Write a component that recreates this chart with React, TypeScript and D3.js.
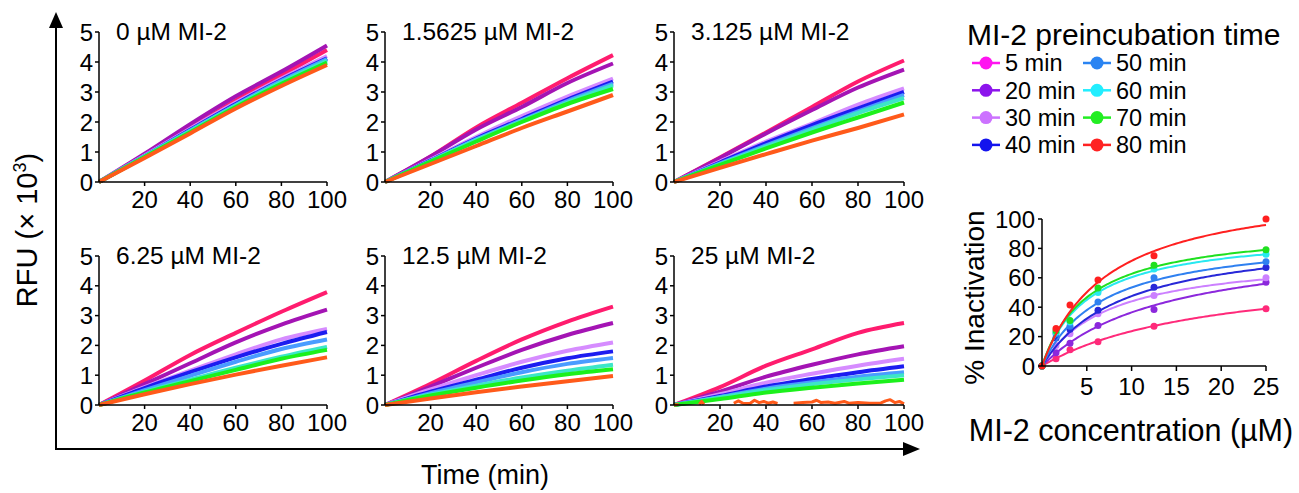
import React from "react";
import * as d3 from "d3";

const FONT = "'Liberation Sans', Arial, sans-serif";

// preincubation times (series), same order everywhere
const PRE_TIMES = ["5 min", "20 min", "30 min", "40 min", "50 min", "60 min", "70 min", "80 min"];
const LEGEND_COLORS = ["#ff14f0", "#8c14ec", "#cc72ff", "#1414ee", "#2a84f2", "#22eeff", "#22ee22", "#ff2222"];
const TRACE_COLORS = ["#ff1c6e", "#a414b4", "#d68cff", "#1c1cf0", "#4a9cff", "#3ce6c8", "#1cf01c", "#ff5a1a"];
const FIT_COLORS = ["#ff2a7a", "#8c28dc", "#cc80ff", "#2828d8", "#2f80f0", "#28e8f0", "#20e020", "#ff2020"];

// kinetic traces, RFU x 10^3 read at these times (min)
const TIMES = [0, 20, 40, 60, 80, 100];
const PANEL_LABELS = ["0 µM MI-2", "1.5625 µM MI-2", "3.125 µM MI-2", "6.25 µM MI-2", "12.5 µM MI-2", "25 µM MI-2"];

const rfu0 = [
  [0, 0.88, 1.8, 2.72, 3.56, 4.4],
  [0, 0.94, 1.93, 2.86, 3.68, 4.55],
  [0, 0.88, 1.78, 2.65, 3.45, 4.2],
  [0, 0.86, 1.74, 2.6, 3.4, 4.12],
  [0, 0.86, 1.72, 2.57, 3.37, 4.1],
  [0, 0.85, 1.7, 2.55, 3.33, 4.05],
  [0, 0.83, 1.66, 2.5, 3.27, 3.98],
  [0, 0.8, 1.62, 2.45, 3.2, 3.9],
];
const rfu1_5625 = [
  [0, 0.85, 1.82, 2.64, 3.46, 4.23],
  [0, 0.85, 1.75, 2.5, 3.3, 3.95],
  [0, 0.75, 1.5, 2.2, 2.85, 3.45],
  [0, 0.72, 1.45, 2.1, 2.75, 3.35],
  [0, 0.7, 1.42, 2.06, 2.7, 3.28],
  [0, 0.7, 1.4, 2.03, 2.65, 3.22],
  [0, 0.68, 1.35, 2.0, 2.6, 3.1],
  [0, 0.6, 1.2, 1.8, 2.35, 2.9],
];
const rfu3_125 = [
  [0, 0.82, 1.65, 2.5, 3.35, 4.05],
  [0, 0.8, 1.62, 2.4, 3.15, 3.75],
  [0, 0.68, 1.35, 1.95, 2.58, 3.12],
  [0, 0.65, 1.3, 1.9, 2.45, 3.0],
  [0, 0.62, 1.22, 1.8, 2.35, 2.9],
  [0, 0.6, 1.18, 1.75, 2.3, 2.8],
  [0, 0.57, 1.12, 1.65, 2.15, 2.65],
  [0, 0.47, 0.93, 1.38, 1.8, 2.25],
];
const rfu6_25 = [
  [0, 0.82, 1.68, 2.42, 3.13, 3.79],
  [0, 0.7, 1.4, 2.1, 2.7, 3.2],
  [0, 0.6, 1.15, 1.7, 2.2, 2.55],
  [0, 0.57, 1.1, 1.6, 2.05, 2.45],
  [0, 0.5, 0.98, 1.45, 1.88, 2.2],
  [0, 0.45, 0.85, 1.25, 1.62, 1.95],
  [0, 0.42, 0.8, 1.18, 1.55, 1.85],
  [0, 0.36, 0.7, 1.02, 1.32, 1.6],
];
const rfu12_5 = [
  [0, 0.71, 1.48, 2.2, 2.8, 3.3],
  [0, 0.62, 1.25, 1.85, 2.35, 2.75],
  [0, 0.52, 1.0, 1.45, 1.82, 2.1],
  [0, 0.45, 0.85, 1.25, 1.57, 1.8],
  [0, 0.4, 0.76, 1.1, 1.38, 1.58],
  [0, 0.35, 0.65, 0.92, 1.15, 1.35],
  [0, 0.32, 0.58, 0.82, 1.03, 1.2],
  [0, 0.22, 0.43, 0.62, 0.8, 0.97],
];
const rfu25 = [
  [0, 0.6, 1.32, 1.87, 2.42, 2.75],
  [0, 0.45, 0.95, 1.35, 1.7, 1.97],
  [0, 0.36, 0.75, 1.05, 1.32, 1.55],
  [0, 0.3, 0.62, 0.87, 1.1, 1.3],
  [0, 0.27, 0.55, 0.76, 0.95, 1.1],
  [0, 0.25, 0.5, 0.7, 0.86, 1.0],
  [0, 0.2, 0.42, 0.58, 0.72, 0.85],
];
// 80 min trace at 25 µM is flat / broken, keep its own times
const rfu25_80_times = [0, 2, 3, 11, 12, 13, 24, 26, 28, 30, 33, 35, 37, 39, 41, 43, 45, 46, 52, 56, 60, 62, 64, 67, 70, 74, 76, 80, 85, 90, 92, 94, 96, 98, 100];
const rfu25_80_vals = [0, 0.02, null, 0.02, 0.12, 0.02, null, 0.06, 0.14, 0.06, 0.05, 0.16, 0.08, 0.12, 0.06, 0.1, 0.05, null, 0.06, 0.08, 0.1, 0.16, 0.08, 0.1, 0.06, 0.12, 0.06, 0.08, 0.06, 0.07, 0.14, 0.18, 0.08, 0.12, 0.04];
const PANEL_DATA = [rfu0, rfu1_5625, rfu3_125, rfu6_25, rfu12_5, rfu25];

// % inactivation vs MI-2 concentration
const INACT_CONC = [0, 1.5625, 3.125, 6.25, 12.5, 25];
const inact = [
  [0, 5, 11, 16.5, 27, 39],
  [0, 9, 15.5, 27.5, 38.5, 57],
  [0, 14, 22, 35.5, 48, 60],
  [0, 19, 25, 38, 53.5, 67],
  [0, 22, 27, 43.5, 60, 71],
  [0, 23, 30, 50, 66, 76],
  [0, 24, 31, 53, 68.5, 79],
  [0, 25.5, 41.5, 58.5, 75, 100],
];
// hyperbolic fit parameters per series (estimated from the drawn curves)
const FIT_VMAX = [68.5, 87.1, 76.5, 90.5, 89.6, 91.8, 95.5, 124.3];
const FIT_K = [18.9, 13.9, 7.4, 9.04, 6.78, 5.2, 5.23, 7.38];

const COLS = [[99, 327], [385, 613], [674, 904]];
const ROWS = [[182, 32], [405, 256]];

function Panel({ idx }: { idx: number }) {
  const col = COLS[idx % 3];
  const row = ROWS[Math.floor(idx / 3)];
  const x = d3.scaleLinear().domain([0, 100]).range(col);
  const y = d3.scaleLinear().domain([0, 5]).range(row);
  const smooth = d3.line<[number, number]>()
    .x(d => x(d[0]))
    .y(d => y(d[1]))
    .curve(d3.curveMonotoneX);
  const broken = d3.line<[number, number | null]>()
    .defined(d => d[1] !== null)
    .x(d => x(d[0]))
    .y(d => y(d[1] as number));
  const series = PANEL_DATA[idx];
  return (
    <g>
      {series.map((vals, i) => (
        <path key={i} d={smooth(TIMES.map((t, j) => [t, vals[j]]) as any) || ""}
          fill="none" stroke={TRACE_COLORS[i]} strokeWidth={4} strokeLinejoin="round" />
      ))}
      {idx === 5 && (
        <path d={broken(rfu25_80_times.map((t, j) => [t, rfu25_80_vals[j]]) as any) || ""}
          fill="none" stroke={TRACE_COLORS[7]} strokeWidth={3} strokeLinejoin="round" />
      )}
      <line x1={x(0)} x2={x(100)} y1={y(0)} y2={y(0)} stroke="#000" strokeWidth={1.5} />
      <line x1={x(0)} x2={x(0)} y1={y(0)} y2={y(5)} stroke="#000" strokeWidth={1.5} />
      {y.ticks(5).map(t => (
        <g key={t}>
          <line x1={x(0) - 4} x2={x(0)} y1={y(t)} y2={y(t)} stroke="#000" strokeWidth={1.5} />
          <text x={x(0) - 6} y={y(t)} dy="0.36em" textAnchor="end" fontSize={24} fontFamily={FONT}>{t}</text>
        </g>
      ))}
      {[20, 40, 60, 80, 100].map(t => (
        <g key={t}>
          <line x1={x(t)} x2={x(t)} y1={y(0)} y2={y(0) + 4} stroke="#000" strokeWidth={1.5} />
          <text x={x(t)} y={y(0) + 26} textAnchor="middle" fontSize={24} fontFamily={FONT}>{t}</text>
        </g>
      ))}
      <text x={x(0) + 17} y={y(5) + 8} fontSize={24.5} fontFamily={FONT}>{PANEL_LABELS[idx]}</text>
    </g>
  );
}

function Inactivation() {
  const x = d3.scaleLinear().domain([0, 25]).range([1042, 1266]);
  const y = d3.scaleLinear().domain([0, 100]).range([366, 219]);
  const concGrid = d3.range(0, 25.001, 0.25);
  return (
    <g>
      {inact.map((vals, i) => {
        const fit = d3.line<number>().x(c => x(c)).y(c => y(FIT_VMAX[i] * c / (FIT_K[i] + c)));
        return (
          <g key={i}>
            <path d={fit(concGrid) || ""} fill="none" stroke={FIT_COLORS[i]} strokeWidth={2} />
            {vals.map((v, j) => (
              <circle key={j} cx={x(INACT_CONC[j])} cy={y(v)} r={3.5} fill={FIT_COLORS[i]} />
            ))}
          </g>
        );
      })}
      <line x1={x(0)} x2={x(25)} y1={y(0)} y2={y(0)} stroke="#000" strokeWidth={1.5} />
      <line x1={x(0)} x2={x(0)} y1={y(0)} y2={y(100)} stroke="#000" strokeWidth={1.5} />
      {y.ticks(5).map(t => (
        <g key={t}>
          <line x1={x(0) - 4} x2={x(0)} y1={y(t)} y2={y(t)} stroke="#000" strokeWidth={1.5} />
          <text x={x(0) - 7} y={y(t)} dy="0.36em" textAnchor="end" fontSize={24} fontFamily={FONT}>{t}</text>
        </g>
      ))}
      {[5, 10, 15, 20, 25].map(t => (
        <g key={t}>
          <line x1={x(t)} x2={x(t)} y1={y(0)} y2={y(0) + 5} stroke="#000" strokeWidth={1.5} />
          <text x={x(t)} y={y(0) + 29} textAnchor="middle" fontSize={24} fontFamily={FONT}>{t}</text>
        </g>
      ))}
      <text transform={`translate(984,${(y(0) + y(100)) / 2 + 5}) rotate(-90)`} textAnchor="middle"
        fontSize={28} fontFamily={FONT}>% Inactivation</text>
      <text x={1131} y={441} textAnchor="middle" fontSize={30.5} fontFamily={FONT}>MI-2 concentration (µM)</text>
    </g>
  );
}

function Legend() {
  const x0 = 986, x1 = 1097, y0 = 63, dy = 27.3;
  return (
    <g fontFamily={FONT}>
      <text x={967} y={45} fontSize={30}>MI-2 preincubation time</text>
      {PRE_TIMES.map((label, i) => {
        const cx = i < 4 ? x0 : x1;
        const cy = y0 + (i % 4) * dy;
        return (
          <g key={label}>
            <line x1={cx - 14} x2={cx + 14} y1={cy} y2={cy} stroke={LEGEND_COLORS[i]} strokeWidth={2.5} />
            <circle cx={cx} cy={cy} r={6.5} fill={LEGEND_COLORS[i]} />
            <text x={cx + 19} y={cy} dy="0.36em" fontSize={23.5}>{label}</text>
          </g>
        );
      })}
    </g>
  );
}

export default function App() {
  return (
    <svg width={1299} height={493} style={{ display: "block", position: "absolute", left: 0, top: 0, background: "#fff" }}>
      <rect width={1299} height={493} fill="#fff" />
      {PANEL_LABELS.map((_, i) => <Panel key={i} idx={i} />)}
      {/* big frame arrows */}
      <line x1={56} x2={56} y1={449} y2={26} stroke="#000" strokeWidth={2} />
      <path d="M49,28 L56,12 L63,28 Z" fill="#000" />
      <line x1={55} x2={905} y1={449} y2={449} stroke="#000" strokeWidth={2} />
      <path d="M903,442 L920,449 L903,456 Z" fill="#000" />
      <text transform="translate(37,230) rotate(-90)" textAnchor="middle" fontSize={29} fontFamily={FONT}>
        RFU (× 10<tspan fontSize={18} dy={-11}>3</tspan><tspan dy={11}>)</tspan>
      </text>
      <text x={485} y={484} textAnchor="middle" fontSize={27} fontFamily={FONT}>Time (min)</text>
      <Inactivation />
      <Legend />
    </svg>
  );
}
